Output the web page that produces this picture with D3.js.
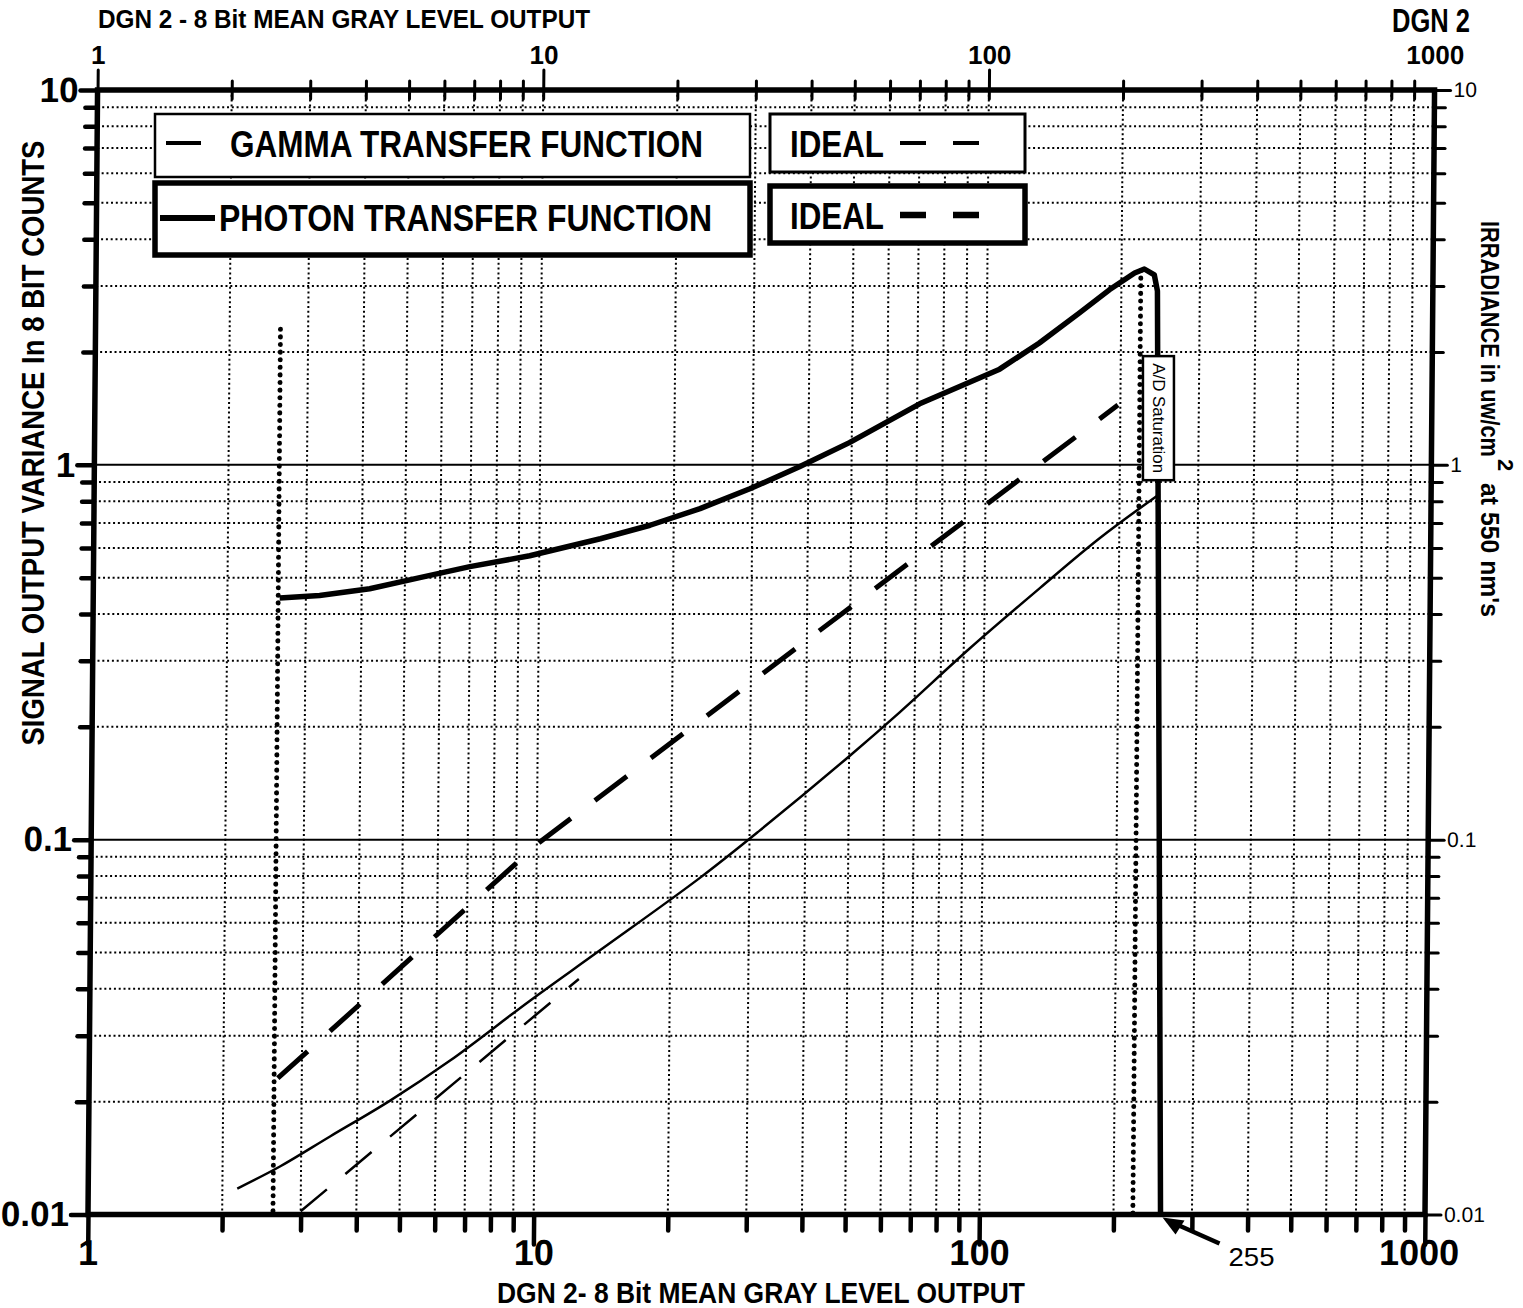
<!DOCTYPE html>
<html>
<head>
<meta charset="utf-8">
<script src="https://cdn.jsdelivr.net/npm/d3@7"></script>
<style>
  body { margin: 0; background: #fff; }
  svg { display: block; font-family: "Liberation Sans Narrow", "Arial Narrow", "Liberation Sans", Arial, sans-serif; }
</style>
</head>
<body>
<div id="chart"></div>
<script>
// ---- data ----
const photonX = [2.62, 3.22, 4.17, 5.40, 6.99, 9.52, 13.7, 17.7, 22.9, 29.6, 38.2, 49.4, 70.9, 107, 131, 161, 188, 214, 225, 237, 241, 255]
const photonY = [0.441, 0.448, 0.467, 0.500, 0.535, 0.572, 0.635, 0.69, 0.764, 0.863, 0.988, 1.146, 1.455, 1.80, 2.11, 2.54, 2.93, 3.25, 3.33, 3.21, 2.91, 0.01]
const gammaX = [2.16, 2.69, 3.48, 4.73, 6.45, 9.72, 13.9, 23.3, 31.6, 50.2, 64.9, 92.9, 133, 181, 246]
const gammaY = [0.01173, 0.01343, 0.01615, 0.0201, 0.02575, 0.0372, 0.0506, 0.0792, 0.1057, 0.1675, 0.219, 0.324, 0.469, 0.638, 0.836]
const gammaIdealX = [3.0, 12.5]
const gammaIdealY = [0.0102, 0.0425]
const photonIdealX = [2.65, 10.16, 197.5]
const photonIdealY = [0.0231, 0.0986, 1.444]
const markerX = [2.6, 221]         // dotted verticals
const markerTop = [2.3, 3.3]
const saturationX = 255
const saturationBox = [1.95, 0.91] // y extent of the A/D tag

const xMajor = [1, 10, 100, 1000]
const yMajor = [0.01, 0.1, 1, 10]
const legendLabels = ['GAMMA TRANSFER FUNCTION', 'PHOTON TRANSFER FUNCTION']

// ---- layout ----
const W = 1523, H = 1308
const x = d3.scaleLog().domain([1, 1000]).range([88, 1425])
const y = d3.scaleLog().domain([0.01, 10]).range([1214.5, 90])
const skew = 0.0085 // the scan leans a little: top edge sits ~10px right of the bottom edge
const y0 = y(0.01)
const sx = (xv, yv) => x(xv) + skew * (y0 - y(yv))

const svg = d3.select('#chart').append('svg').attr('width', W).attr('height', H)
svg.append('rect').attr('width', W).attr('height', H).attr('fill', '#fff')

const plot = svg.append('g').attr('transform', `matrix(1,0,${-skew},1,${skew * y0},0)`)

// grid
const xGrid = x.ticks().filter(v => v > 1 && v < 1000)
const yGrid = y.ticks().filter(v => v > 0.01 && v < 10)
const xMinor = x.ticks().filter(v => !xMajor.includes(v))
const yMinor = y.ticks().filter(v => !yMajor.includes(v))
const dots = '2,2.8'

plot.append('g').selectAll('line').data(xGrid).join('line')
  .attr('x1', d => x(d)).attr('x2', d => x(d))
  .attr('y1', y(10)).attr('y2', y(0.01))
  .attr('stroke', '#000').attr('stroke-width', 2).attr('stroke-dasharray', dots)

plot.append('g').selectAll('line').data(yGrid).join('line')
  .attr('x1', x(1)).attr('x2', x(1000))
  .attr('y1', d => y(d)).attr('y2', d => y(d))
  .attr('stroke', '#000')
  .attr('stroke-width', 2)
  .attr('stroke-dasharray', d => yMajor.includes(d) ? null : dots)

// axes
function styleAxis (g, width) {
  g.select('.domain').remove()
  g.selectAll('.tick line').attr('stroke', '#000').attr('stroke-width', width).attr('stroke-linecap', 'round')
}

// left
plot.append('g').attr('transform', `translate(${x(1)},0)`)
  .call(d3.axisLeft(y).tickValues(yMinor).tickSize(12).tickFormat(''))
  .call(g => styleAxis(g, 4.5))
plot.append('g').attr('transform', `translate(${x(1)},0)`)
  .call(d3.axisLeft(y).tickValues(yMajor).tickSize(17).tickPadding(2).tickFormat(d3.format('~g')))
  .call(g => styleAxis(g, 4.5))
  .call(g => g.selectAll('text').attr('fill', '#000').attr('font-size', 35).attr('font-weight', 'bold'))

// right
plot.append('g').attr('transform', `translate(${x(1000)},0)`)
  .call(d3.axisRight(y).tickValues(yMinor).tickSize(11).tickFormat(''))
  .call(g => styleAxis(g, 3))
plot.append('g').attr('transform', `translate(${x(1000)},0)`)
  .call(d3.axisRight(y).tickValues(yMajor).tickSize(16).tickPadding(3).tickFormat(d3.format('~g')))
  .call(g => styleAxis(g, 3))
  .call(g => g.selectAll('text').attr('fill', '#000').attr('font-size', 21))

// bottom
plot.append('g').attr('transform', `translate(0,${y(0.01)})`)
  .call(d3.axisBottom(x).tickValues(xMinor).tickSize(16).tickFormat(''))
  .call(g => styleAxis(g, 4.5))
plot.append('g').attr('transform', `translate(0,${y(0.01)})`)
  .call(d3.axisBottom(x).tickValues(xMajor).tickSize(30).tickFormat(d3.format('~g')))
  .call(g => styleAxis(g, 4.5))
  .call(g => g.selectAll('text').attr('fill', '#000').attr('font-size', 36).attr('font-weight', 'bold')
    .attr('y', 38).attr('dy', '0.36em'))
  .call(g => g.selectAll('.tick').filter(d => d === 1000).select('text').attr('dx', -6))

// top
plot.append('g').attr('transform', `translate(0,${y(10)})`)
  .call(d3.axisTop(x).tickValues(xMinor).tickSize(9).tickFormat(''))
  .call(g => styleAxis(g, 3))
  .call(g => g.selectAll('.tick line').attr('y1', 9))
plot.append('g').attr('transform', `translate(0,${y(10)})`)
  .call(d3.axisTop(x).tickValues(xMajor.slice(0, 3)).tickSize(20).tickFormat(''))
  .call(g => styleAxis(g, 3))
  .call(g => g.selectAll('.tick line').attr('y1', 9))
plot.append('g').attr('transform', `translate(0,${y(10)})`)
  .call(d3.axisTop(x).tickValues(xMajor).tickSize(0).tickFormat(d3.format('~g')))
  .call(g => g.select('.domain').remove())
  .call(g => g.selectAll('text').attr('fill', '#000').attr('font-size', 26).attr('font-weight', 'bold')
    .attr('y', -35).attr('dy', '0.36em'))

// frame
plot.append('rect')
  .attr('x', x(1)).attr('y', y(10))
  .attr('width', x(1000) - x(1)).attr('height', y(0.01) - y(10))
  .attr('fill', 'none').attr('stroke', '#000').attr('stroke-width', 5.5)

// dotted marker verticals
plot.append('g').selectAll('line').data(markerX).join('line')
  .attr('x1', d => x(d)).attr('x2', d => x(d))
  .attr('y1', (d, i) => y(markerTop[i])).attr('y2', y(0.01))
  .attr('stroke', '#000').attr('stroke-width', 5)
  .attr('stroke-linecap', 'round').attr('stroke-dasharray', '0.1,7.5')

// series
const line = d3.line().x(d => x(d[0])).y(d => y(d[1]))
const zip = (a, b) => a.map((v, i) => [v, b[i]])

plot.append('path').datum(zip(gammaIdealX, gammaIdealY)).attr('d', line)
  .attr('fill', 'none').attr('stroke', '#000').attr('stroke-width', 2.5).attr('stroke-dasharray', '34,24')
plot.append('path').datum(zip(photonIdealX, photonIdealY)).attr('d', line)
  .attr('fill', 'none').attr('stroke', '#000').attr('stroke-width', 5).attr('stroke-dasharray', '40,30')
plot.append('path').datum(zip(gammaX, gammaY)).attr('d', d3.line().x(d => x(d[0])).y(d => y(d[1])).curve(d3.curveCatmullRom))
  .attr('fill', 'none').attr('stroke', '#000').attr('stroke-width', 2.5)
plot.append('path').datum(zip(photonX, photonY)).attr('d', line)
  .attr('fill', 'none').attr('stroke', '#000').attr('stroke-width', 5.5).attr('stroke-linejoin', 'round')

// A/D saturation tag
const adX = sx(saturationX, 1.5) - 24.5
const adTop = y(saturationBox[0]), adBot = y(saturationBox[1])
svg.append('rect').attr('x', adX).attr('y', adTop).attr('width', 31).attr('height', adBot - adTop)
  .attr('fill', '#fff').attr('stroke', '#000').attr('stroke-width', 2.5)
svg.append('text')
  .attr('transform', `translate(${adX + 16},${(adTop + adBot) / 2}) rotate(90)`)
  .attr('text-anchor', 'middle').attr('dominant-baseline', 'central')
  .attr('font-size', 17).attr('textLength', 110).attr('lengthAdjust', 'spacingAndGlyphs')
  .text('A/D Saturation')

// 255 arrow
const ax = sx(saturationX, 0.01) + 2, ay = y0 + 3
svg.append('line').attr('x1', ax + 12).attr('y1', ay + 6).attr('x2', ax + 57).attr('y2', ay + 26)
  .attr('stroke', '#000').attr('stroke-width', 4.5)
svg.append('path').attr('d', `M${ax},${ay} L${ax + 22},${ay + 3} L${ax + 13},${ay + 17} Z`).attr('fill', '#000')
svg.append('text').attr('x', ax + 66).attr('y', ay + 48).attr('font-size', 25)
  .attr('textLength', 46).attr('lengthAdjust', 'spacingAndGlyphs').text('255')

// legend
const legend = svg.append('g')
const boxes = [
  {x: 155, y: 114, w: 595, h: 63, sw: 2.5},
  {x: 770, y: 114, w: 255, h: 58, sw: 3},
  {x: 155, y: 183, w: 595, h: 72, sw: 5.5},
  {x: 770, y: 186, w: 255, h: 57, sw: 5.5}
]
legend.selectAll('rect').data(boxes).join('rect')
  .attr('x', d => d.x).attr('y', d => d.y).attr('width', d => d.w).attr('height', d => d.h)
  .attr('fill', '#fff').attr('stroke', '#000').attr('stroke-width', d => d.sw)

legend.append('line').attr('x1', 166).attr('x2', 201).attr('y1', 143).attr('y2', 143)
  .attr('stroke', '#000').attr('stroke-width', 4)
legend.append('text').attr('x', 230).attr('y', 157).attr('font-size', 37).attr('font-weight', 'bold')
  .attr('textLength', 473).attr('lengthAdjust', 'spacingAndGlyphs').text(legendLabels[0])
legend.append('line').attr('x1', 160).attr('x2', 215).attr('y1', 218).attr('y2', 218)
  .attr('stroke', '#000').attr('stroke-width', 6)
legend.append('text').attr('x', 219).attr('y', 231).attr('font-size', 36).attr('font-weight', 'bold')
  .attr('textLength', 493).attr('lengthAdjust', 'spacingAndGlyphs').text(legendLabels[1])

const idealRows = [{base: 157, mid: 143, sw: 4}, {base: 229, mid: 215, sw: 6.5}]
idealRows.forEach(r => {
  legend.append('text').attr('x', 790).attr('y', r.base).attr('font-size', 37).attr('font-weight', 'bold')
    .attr('textLength', 94).attr('lengthAdjust', 'spacingAndGlyphs').text('IDEAL')
  legend.append('line').attr('x1', 900).attr('x2', 981).attr('y1', r.mid).attr('y2', r.mid)
    .attr('stroke', '#000').attr('stroke-width', r.sw).attr('stroke-dasharray', '26,27')
})

// titles
svg.append('text').attr('x', 98).attr('y', 28).attr('font-size', 25).attr('font-weight', 'bold')
  .attr('textLength', 492).attr('lengthAdjust', 'spacingAndGlyphs')
  .text('DGN 2 -  8 Bit MEAN GRAY LEVEL OUTPUT')
svg.append('text').attr('x', 1392).attr('y', 32).attr('font-size', 33).attr('font-weight', 'bold')
  .attr('textLength', 78).attr('lengthAdjust', 'spacingAndGlyphs').text('DGN 2')
svg.append('text').attr('x', 497).attr('y', 1303).attr('font-size', 29).attr('font-weight', 'bold')
  .attr('textLength', 528).attr('lengthAdjust', 'spacingAndGlyphs')
  .text('DGN 2- 8 Bit MEAN GRAY LEVEL OUTPUT')
svg.append('text').attr('transform', 'translate(33,443) rotate(-90)')
  .attr('text-anchor', 'middle').attr('dominant-baseline', 'central')
  .attr('font-size', 31).attr('font-weight', 'bold')
  .attr('textLength', 605).attr('lengthAdjust', 'spacingAndGlyphs')
  .text('SIGNAL OUTPUT VARIANCE In 8 BIT COUNTS')

// right title, reading downwards, with the superscript 2
const rt = svg.append('g').attr('transform', 'translate(1481,221) rotate(90)')
rt.append('text').attr('x', 0).attr('y', 0).attr('font-size', 25).attr('font-weight', 'bold')
  .attr('textLength', 236).attr('lengthAdjust', 'spacingAndGlyphs').text('IRRADIANCE in uw/cm')
rt.append('text').attr('x', 238).attr('y', -17).attr('font-size', 22).attr('font-weight', 'bold').text('2')
rt.append('text').attr('x', 262).attr('y', 0).attr('font-size', 25).attr('font-weight', 'bold')
  .attr('textLength', 134).attr('lengthAdjust', 'spacingAndGlyphs').text("at 550 nm's")
</script>
</body>
</html>
